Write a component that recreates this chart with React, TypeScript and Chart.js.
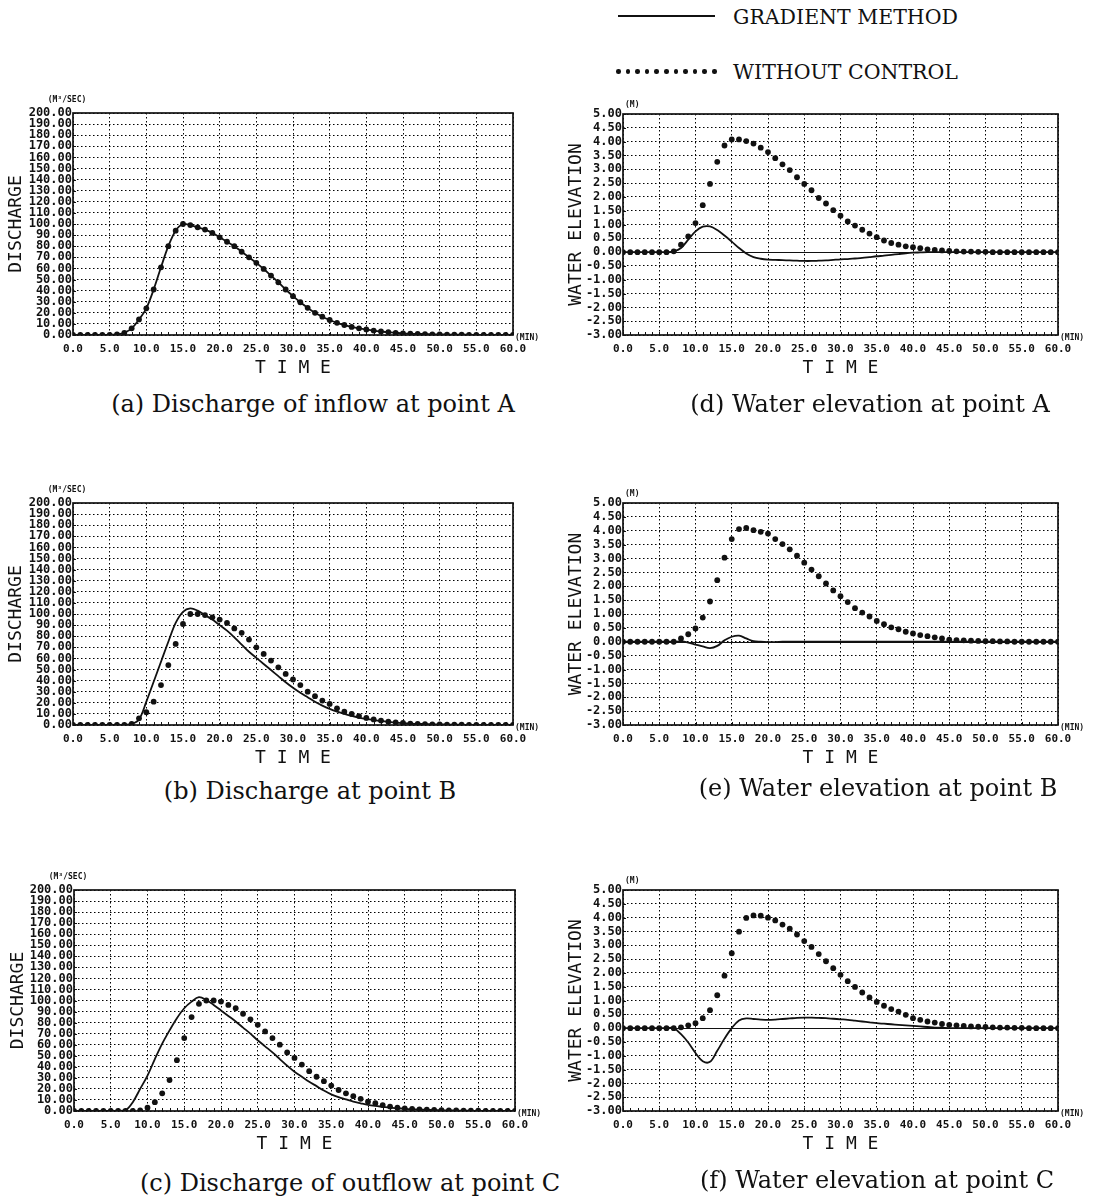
import React, { useEffect, useRef } from "react";
import { Chart, registerables } from "chart.js";

Chart.register(...registerables);

// ---------------- data ----------------
const TIME_MIN = [0,1,2,3,4,5,6,7,8,9,10,11,12,13,14,15,16,17,18,19,20,21,22,23,24,25,26,27,28,29,30,31,32,33,34,35,36,37,38,39,40,41,42,43,44,45,46,47,48,49,50,51,52,53,54,55,56,57,58,59,60];
const TIME_TICKS = [0,5,10,15,20,25,30,35,40,45,50,55,60];
const DISCHARGE_TICKS = [0,10,20,30,40,50,60,70,80,90,100,110,120,130,140,150,160,170,180,190,200];
const ELEVATION_TICKS = [-3,-2.5,-2,-1.5,-1,-0.5,0,0.5,1,1.5,2,2.5,3,3.5,4,4.5,5];
const SERIES_NAMES = ["GRADIENT METHOD", "WITHOUT CONTROL"];

// (a) inflow at A (identical for both cases)
const INFLOW_A = [0,0,0,0,0,0,0.5,2,6,14,24,41,61,80,94,100,99,97,95,92,88,84,80,75,70,65,59.5,53.5,47.5,41,35,29.5,24.5,20,16.5,13.5,11,9,7.3,6,5,4,3.2,2.5,2,1.5,1.2,1,0.8,0.6,0.5,0.4,0.3,0.3,0.2,0.2,0.1,0.1,0.1,0,0];
// (b) discharge at B
const DISCH_B_GRADIENT = [0,0,0,0,0,0,0,0,1,5,21,39,57,75,92,102,105,103,99,95,90,85,79,72.5,66,60.5,55,49.5,44,38.5,33.5,29,25,21,17.5,14.5,12,10,8.2,6.7,5.5,4.5,3.6,2.8,2.1,1.6,1.2,1,0.8,0.6,0.5,0.4,0.3,0.2,0.2,0.1,0.1,0.1,0,0,0];
const DISCH_B_WITHOUT = [0,0,0,0,0,0,0,0,1,6,11.5,21,36,54,73,91,100,100,99,97,95,92,87,83,77,70,64,58,52,46,41,36,30,26,22,19,15,12,10,8,6.4,5,4,3,2.4,1.8,1.3,1,0.8,0.6,0.5,0.4,0.3,0.3,0.2,0.2,0.1,0.1,0.1,0,0];
// (c) outflow at C
const DISCH_C_GRADIENT = [0,0,0,0,0,0,0,0.5,8,20,32,47,61,73,84,93,99,103,100.5,96,91,86,81,75.5,70,64,58.5,53,47,41,35.5,31,26.5,22.5,18.5,15,12.5,10.5,8.5,7,5.6,4.6,3.8,3,2.5,2,1.6,1.3,1,0.8,0.6,0.5,0.4,0.3,0.2,0.2,0.1,0.1,0.1,0,0];
const DISCH_C_WITHOUT = [0,0,0,0,0,0,0,0,0,0.5,3,8,16,28,46,66,85,97,100,100,99,96,93,88,83,78,72,66,60,53,48,42,36,31,27,23,19,16,13.4,11,8.4,7,5.4,4,3,2.4,2,1.5,1.2,1,0.8,0.6,0.5,0.4,0.3,0.3,0.2,0.2,0.1,0.1,0];
// (d) water elevation at A
const ELEV_A_GRADIENT = [0,0,0,0,0,0,0,0.03,0.15,0.45,0.75,0.92,0.93,0.8,0.6,0.38,0.15,-0.05,-0.18,-0.24,-0.27,-0.28,-0.29,-0.3,-0.31,-0.32,-0.32,-0.31,-0.3,-0.28,-0.26,-0.25,-0.23,-0.21,-0.18,-0.15,-0.13,-0.1,-0.07,-0.04,-0.02,-0.01,0,0,0,0,0,0,0,0,0,0,0,0,0,0,0,0,0,0,0];
const ELEV_A_WITHOUT = [0,0,0,0,0,0,0,0.03,0.27,0.57,1.05,1.7,2.47,3.27,3.86,4.08,4.08,4.02,3.93,3.78,3.62,3.4,3.18,2.97,2.71,2.47,2.24,1.96,1.76,1.52,1.32,1.11,0.96,0.81,0.67,0.54,0.42,0.33,0.27,0.21,0.18,0.14,0.1,0.08,0.06,0.04,0.03,0.02,0.02,0.01,0.01,0,0,0,0,0,0,0,0,0,0];
// (e) water elevation at B
const ELEV_B_GRADIENT = [0,0,0,0,0,0,0,0,0.01,-0.03,-0.1,-0.17,-0.23,-0.15,0.05,0.18,0.22,0.12,0.02,0,-0.01,-0.01,0,0,0,0,0,0,0,0,0,0,0,0,0,0,0,0,0,0,0,0,0,0,0,0,0,0,0,0,0,0,0,0,0,0,0,0,0,0,0];
const ELEV_B_WITHOUT = [0,0,0,0,0,0,0,0,0.12,0.27,0.48,0.87,1.45,2.22,3.03,3.7,4.06,4.1,4.02,3.96,3.9,3.7,3.52,3.33,3.1,2.85,2.6,2.36,2.1,1.85,1.64,1.43,1.21,1.05,0.91,0.75,0.63,0.52,0.45,0.36,0.3,0.24,0.2,0.16,0.12,0.08,0.06,0.05,0.04,0.03,0.02,0.02,0.01,0.01,0,0,0,0,0,0,0];
// (f) water elevation at C
const ELEV_C_GRADIENT = [0,0,0,0,0,0,0,0,-0.22,-0.52,-0.9,-1.2,-1.22,-0.82,-0.38,0,0.28,0.35,0.33,0.31,0.3,0.31,0.33,0.35,0.37,0.38,0.38,0.37,0.36,0.34,0.32,0.3,0.27,0.24,0.21,0.18,0.16,0.14,0.12,0.1,0.08,0.06,0.04,0.02,0.01,0,0,0,0,0,0,0,0,0,0,0,0,0,0,0,0];
const ELEV_C_WITHOUT = [0,0,0,0,0,0,0,0,0.03,0.1,0.18,0.36,0.65,1.19,1.9,2.71,3.49,3.99,4.08,4.07,4.0,3.9,3.75,3.6,3.39,3.15,2.94,2.68,2.42,2.17,1.93,1.7,1.49,1.29,1.11,0.95,0.81,0.69,0.6,0.48,0.36,0.3,0.24,0.2,0.15,0.12,0.1,0.08,0.06,0.05,0.04,0.03,0.02,0.02,0.01,0.01,0,0,0,0,0];

// ---------------- layout ----------------
type Rect = { left: number; top: number; right: number; bottom: number };
type PanelSpec = {
  kind: "discharge" | "elevation";
  gradient: number[];
  without: number[];
  caption: string;
  plot: Rect;
  canvasLeft: number;
  canvasWidth: number;
  captionX: number;
  captionY: number;
  titleX: number;
};

const MONO = '"DejaVu Sans Mono", monospace';
const SERIF = '"DejaVu Serif", serif';
const INK = "#111";

const PANELS: PanelSpec[] = [
  { kind: "discharge", gradient: INFLOW_A, without: INFLOW_A, caption: "(a) Discharge of inflow at point A",
    plot: { left: 73, top: 113, right: 513, bottom: 335 }, canvasLeft: 0, canvasWidth: 550, captionX: 313, captionY: 404, titleX: 16 },
  { kind: "discharge", gradient: DISCH_B_GRADIENT, without: DISCH_B_WITHOUT, caption: "(b) Discharge at point B",
    plot: { left: 73, top: 503, right: 513, bottom: 725 }, canvasLeft: 0, canvasWidth: 550, captionX: 310, captionY: 791, titleX: 16 },
  { kind: "discharge", gradient: DISCH_C_GRADIENT, without: DISCH_C_WITHOUT, caption: "(c) Discharge of outflow at point C",
    plot: { left: 74, top: 890, right: 515, bottom: 1111 }, canvasLeft: 0, canvasWidth: 550, captionX: 350, captionY: 1183, titleX: 18 },
  { kind: "elevation", gradient: ELEV_A_GRADIENT, without: ELEV_A_WITHOUT, caption: "(d) Water elevation at point A",
    plot: { left: 623, top: 114, right: 1058, bottom: 335 }, canvasLeft: 545, canvasWidth: 549, captionX: 870, captionY: 404, titleX: 576 },
  { kind: "elevation", gradient: ELEV_B_GRADIENT, without: ELEV_B_WITHOUT, caption: "(e) Water elevation at point B",
    plot: { left: 623, top: 503, right: 1058, bottom: 725 }, canvasLeft: 545, canvasWidth: 549, captionX: 878, captionY: 788, titleX: 576 },
  { kind: "elevation", gradient: ELEV_C_GRADIENT, without: ELEV_C_WITHOUT, caption: "(f) Water elevation at point C",
    plot: { left: 623, top: 890, right: 1058, bottom: 1111 }, canvasLeft: 545, canvasWidth: 549, captionX: 877, captionY: 1180, titleX: 576 },
];

const TOP_PAD = 28;
const X_AXIS_H = 48;

// frame, zero line, inner ticks and unit labels
const framePlugin = {
  id: "frame",
  beforeDatasetsDraw(chart: any, _args: any, opts: any) {
    const { ctx, chartArea: a, scales } = chart;
    ctx.save();
    ctx.setLineDash([]);
    ctx.strokeStyle = INK;
    ctx.lineWidth = 1;
    ctx.beginPath();
    for (const t of TIME_MIN) {
      const x = Math.round(scales.x.getPixelForValue(t)) + 0.5;
      ctx.moveTo(x, a.bottom);
      ctx.lineTo(x, a.bottom - 3);
    }
    const yt: number[] = opts.yTicks || [];
    for (const v of yt) {
      const y = Math.round(scales.y.getPixelForValue(v)) + 0.5;
      ctx.moveTo(a.left, y);
      ctx.lineTo(a.left + 3, y);
    }
    ctx.stroke();
    if (opts.zeroLine) {
      const y0 = Math.round(scales.y.getPixelForValue(0)) + 0.5;
      ctx.lineWidth = 1.2;
      ctx.beginPath();
      ctx.moveTo(a.left, y0);
      ctx.lineTo(a.right, y0);
      ctx.stroke();
    }
    ctx.lineWidth = 1.7;
    ctx.strokeRect(a.left, a.top, a.right - a.left, a.bottom - a.top);
    ctx.fillStyle = INK;
    ctx.font = `bold 8px ${MONO}`;
    ctx.textBaseline = "middle";
    if (opts.unit === "(M³/SEC)") {
      ctx.textAlign = "center";
      ctx.fillText("(M³/SEC)", a.left - 6, a.top - 13);
    } else {
      ctx.textAlign = "left";
      ctx.fillText("(M)", a.left + 2, a.top - 9);
    }
    ctx.textAlign = "left";
    ctx.fillText("(MIN)", a.right + 2, a.bottom + 3);
    ctx.restore();
  },
};

function Panel({ spec }: { spec: PanelSpec }) {
  const ref = useRef<HTMLCanvasElement | null>(null);
  const canvasTop = spec.plot.top - TOP_PAD;
  const canvasHeight = spec.plot.bottom - canvasTop + X_AXIS_H;

  useEffect(() => {
    const canvas = ref.current;
    if (!canvas) return;
    const isQ = spec.kind === "discharge";
    const yTicks = isQ ? DISCHARGE_TICKS : ELEVATION_TICKS;
    const yAxisW = spec.plot.left - spec.canvasLeft;
    const titleFont = 18;
    const titleLH = titleFont * 1.2;
    const chart = new Chart(canvas, {
      type: "line",
      data: {
        datasets: [
          {
            label: SERIES_NAMES[0],
            data: TIME_MIN.map((t, i) => ({ x: t, y: spec.gradient[i] })),
            borderColor: INK,
            borderWidth: 1.8,
            pointRadius: 0,
            tension: 0.35,
            fill: false,
            order: 2,
          },
          {
            label: SERIES_NAMES[1],
            data: TIME_MIN.map((t, i) => ({ x: t, y: spec.without[i] })),
            showLine: false,
            pointRadius: 2.9,
            pointBackgroundColor: INK,
            pointBorderWidth: 0,
            order: 1,
          },
        ] as any,
      },
      options: {
        responsive: false,
        animation: false,
        events: [],
        layout: {
          padding: {
            left: 0,
            top: TOP_PAD,
            right: spec.canvasLeft + spec.canvasWidth - spec.plot.right,
            bottom: 0,
          },
        },
        plugins: {
          legend: { display: false },
          tooltip: { enabled: false },
          frame: { zeroLine: !isQ, unit: isQ ? "(M³/SEC)" : "(M)", yTicks },
        } as any,
        scales: {
          x: {
            type: "linear",
            min: 0,
            max: 60,
            afterBuildTicks: (s: any) => {
              s.ticks = TIME_TICKS.map((v) => ({ value: v }));
            },
            afterFit: (s: any) => {
              s.height = X_AXIS_H;
              s.paddingLeft = 0;
              s.paddingRight = 0;
            },
            ticks: {
              autoSkip: false,
              maxRotation: 0,
              minRotation: 0,
              padding: 8,
              color: INK,
              font: { family: MONO, size: 11, weight: "bold" },
              callback: (v: any) => Number(v).toFixed(1),
            },
            grid: { color: "#000", lineWidth: 1, drawTicks: false },
            border: { display: false, dash: [1.5, 2.5] },
            title: {
              display: true,
              text: "T I M E",
              color: INK,
              font: { family: MONO, size: titleFont },
              padding: { top: 0, bottom: 15 - titleLH / 2 },
            },
          },
          y: {
            type: "linear",
            min: isQ ? 0 : -3,
            max: isQ ? 200 : 5,
            afterBuildTicks: (s: any) => {
              s.ticks = yTicks.map((v) => ({ value: v }));
            },
            afterFit: (s: any) => {
              s.width = yAxisW;
              s.paddingTop = 0;
              s.paddingBottom = 0;
            },
            ticks: {
              autoSkip: false,
              padding: 1,
              color: INK,
              font: { family: MONO, size: 12, weight: "bold" },
              callback: (v: any) => Number(v).toFixed(2),
            },
            grid: { color: "#000", lineWidth: 1, drawTicks: false },
            border: { display: false, dash: [1.5, 2.5] },
            title: {
              display: true,
              text: isQ ? "DISCHARGE" : "WATER ELEVATION",
              color: INK,
              font: { family: MONO, size: titleFont },
              padding: { top: spec.titleX - spec.canvasLeft - titleLH / 2, bottom: 0 },
            },
          },
        },
      } as any,
      plugins: [framePlugin as any],
    });
    return () => chart.destroy();
  }, [spec]);

  return (
    <>
      <canvas
        ref={ref}
        width={spec.canvasWidth}
        height={canvasHeight}
        style={{ position: "absolute", left: spec.canvasLeft, top: canvasTop, width: spec.canvasWidth, height: canvasHeight }}
      />
      <div
        style={{
          position: "absolute",
          left: spec.captionX,
          top: spec.captionY,
          transform: "translate(-50%, -50%)",
          whiteSpace: "nowrap",
          fontFamily: SERIF,
          fontSize: 24,
          color: INK,
          lineHeight: 1,
        }}
      >
        {spec.caption}
      </div>
    </>
  );
}

function Legend() {
  const dots = [0, 1, 2, 3, 4, 5, 6, 7, 8, 9, 10];
  const textStyle: React.CSSProperties = {
    position: "absolute",
    left: 733,
    whiteSpace: "nowrap",
    fontFamily: SERIF,
    fontSize: 20.5,
    color: INK,
    lineHeight: 1,
    transform: "translateY(-50%)",
  };
  return (
    <>
      <div style={{ position: "absolute", left: 618, top: 15, width: 97, height: 1.5, background: INK }} />
      <div style={{ ...textStyle, top: 17 }}>{SERIES_NAMES[0]}</div>
      {dots.map((i) => (
        <div
          key={i}
          style={{ position: "absolute", left: 616 + i * 9.6, top: 69, width: 4.5, height: 4.5, borderRadius: 2.25, background: INK }}
        />
      ))}
      <div style={{ ...textStyle, top: 72 }}>{SERIES_NAMES[1]}</div>
    </>
  );
}

export default function App() {
  return (
    <div style={{ position: "absolute", left: 0, top: 0, width: 1094, height: 1203, background: "#fff", overflow: "hidden" }}>
      <Legend />
      {PANELS.map((p, i) => (
        <Panel key={i} spec={p} />
      ))}
    </div>
  );
}
